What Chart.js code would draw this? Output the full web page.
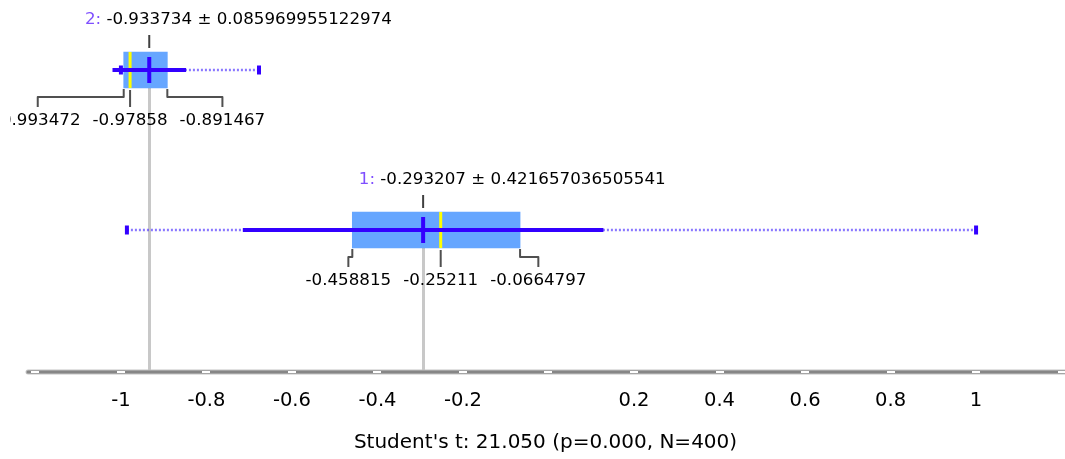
<!DOCTYPE html>
<html>
<head>
<meta charset="utf-8">
<script src="https://cdn.jsdelivr.net/npm/chart.js@4.4.1/dist/chart.umd.min.js"></script>
<style>
html, body { margin: 0; padding: 0; background: #ffffff; }
#wrap { width: 1065px; height: 459px; position: relative; }
</style>
</head>
<body>
<div id="wrap"><canvas id="c"></canvas></div>
<script>
// ---------------- data ----------------
const groupNames = ['1', '2'];
const groupIdx = [1, 2];
const means = [-0.293207, -0.933734];
const sds = [0.421657036505541, 0.085969955122974];
const q1s = [-0.458815, -0.993472];
const medians = [-0.25211, -0.97858];
const q3s = [-0.0664797, -0.891467];
const mins = [-0.986, -1.0];
const maxs = [1.0, -0.677];
const tickValues = [-1.2, -1, -0.8, -0.6, -0.4, -0.2, 0, 0.2, 0.4, 0.6, 0.8, 1, 1.2];
const tickLabels = ['', '-1', '-0.8', '-0.6', '-0.4', '-0.2', '', '0.2', '0.4', '0.6', '0.8', '1', ''];
const axisTitle = "Student's t: 21.050 (p=0.000, N=400)";

// ---------------- styles ----------------
const FONT_FAMILY = '"DejaVu Sans", Verdana, sans-serif';
const LABEL_FONT = '16.7px ' + FONT_FAMILY;
const BLUE = '#3300ff';
const BOX_COLOR = 'rgba(51,136,255,0.75)';
const BOX_H = 36;

Chart.defaults.font.family = FONT_FAMILY;

const datasets = [];
datasets.push({
  type: 'bar', label: 'box', indexAxis: 'y', xAxisID: 'x', yAxisID: 'y',
  data: groupIdx.map((p, i) => ({ y: p, x: [q1s[i], q3s[i]] })),
  backgroundColor: BOX_COLOR, borderWidth: 0, barThickness: BOX_H, order: 10
});
groupIdx.forEach((p, i) => {
  datasets.push({
    type: 'line', label: 'range' + i, xAxisID: 'x', yAxisID: 'y',
    data: [{ x: mins[i], y: p }, { x: maxs[i], y: p }],
    borderColor: 'rgba(60,30,255,0.6)', borderWidth: 2.5, borderDash: [2, 2],
    pointRadius: 0, order: 9
  });
});
datasets.push({
  type: 'line', label: 'median', xAxisID: 'x', yAxisID: 'y', showLine: false,
  data: groupIdx.map((p, i) => ({ x: medians[i], y: p })),
  pointStyle: 'line', pointRotation: 90, pointRadius: BOX_H / 2,
  pointBorderWidth: 3, pointBorderColor: '#ffff00', pointBackgroundColor: '#ffff00',
  order: 8
});
groupIdx.forEach((p, i) => {
  datasets.push({
    type: 'line', label: 'sd' + i, xAxisID: 'x', yAxisID: 'y',
    data: [{ x: means[i] - sds[i], y: p }, { x: means[i] + sds[i], y: p }],
    borderColor: BLUE, borderWidth: 4, pointRadius: 0, order: 7
  });
});
datasets.push({
  type: 'line', label: 'caps', xAxisID: 'x', yAxisID: 'y', showLine: false,
  data: groupIdx.flatMap((p, i) => [{ x: mins[i], y: p }, { x: maxs[i], y: p }]),
  pointStyle: 'line', pointRotation: 90, pointRadius: 4.5,
  pointBorderWidth: 4, pointBorderColor: BLUE, pointBackgroundColor: BLUE,
  order: 6
});
datasets.push({
  type: 'line', label: 'mean', xAxisID: 'x', yAxisID: 'y', showLine: false,
  data: groupIdx.map((p, i) => ({ x: means[i], y: p })),
  pointStyle: 'line', pointRotation: 90, pointRadius: 13,
  pointBorderWidth: 4, pointBorderColor: BLUE, pointBackgroundColor: BLUE,
  order: 5
});

const annot = {
  id: 'annot',
  beforeDatasetsDraw(chart) {
    const { ctx, chartArea, scales: { x, y } } = chart;
    ctx.save();
    ctx.strokeStyle = '#c8c8c8';
    ctx.lineWidth = 3;
    groupIdx.forEach((p, i) => {
      const px = Math.round(x.getPixelForValue(means[i])) + 0.5;
      const py = y.getPixelForValue(p);
      ctx.beginPath();
      ctx.moveTo(px, py + BOX_H / 2);
      ctx.lineTo(px, chartArea.bottom);
      ctx.stroke();
    });
    ctx.restore();
  },
  afterDatasetsDraw(chart) {
    const { ctx, scales: { x, y } } = chart;
    ctx.save();
    // the view clips annotation text a little inside the left edge
    ctx.beginPath();
    ctx.rect(10, 0, chart.width - 10, chart.height);
    ctx.clip();
    ctx.font = LABEL_FONT;
    ctx.textBaseline = 'middle';
    ctx.lineJoin = 'round';
    groupIdx.forEach((p, i) => {
      const py = y.getPixelForValue(p);
      const mx = x.getPixelForValue(means[i]);
      // header label
      const pre = groupNames[i] + ': ';
      const mStr = String(means[i]);
      ctx.textAlign = 'left';
      const wPre = ctx.measureText(pre).width;
      const wM = ctx.measureText(mStr).width;
      const sx = mx - wM / 2 - wPre;
      const ty = py - 50;
      ctx.fillStyle = '#7f4fff';
      ctx.fillText(pre, sx, ty);
      ctx.fillStyle = '#000000';
      ctx.fillText(mStr + ' \u00b1 ' + String(sds[i]), sx + wPre, ty);
      ctx.strokeStyle = '#404040';
      ctx.lineWidth = 2;
      ctx.beginPath();
      ctx.moveTo(mx, py - 35);
      ctx.lineTo(mx, py - 22);
      ctx.stroke();

      // bottom labels
      const bb = py + BOX_H / 2;
      const ly = bb + 33;
      const q1Px = x.getPixelForValue(q1s[i]);
      const q3Px = x.getPixelForValue(q3s[i]);
      const medPx = x.getPixelForValue(medians[i]);
      const s1 = String(q1s[i]), sm = String(medians[i]), s3 = String(q3s[i]);
      const w1 = ctx.measureText(s1).width, wm = ctx.measureText(sm).width, w3 = ctx.measureText(s3).width;
      const gap = 12;
      const c1 = Math.min(q1Px, medPx - wm / 2 - gap - w1 / 2);
      const c3 = Math.max(q3Px, medPx + wm / 2 + gap + w3 / 2);
      ctx.textAlign = 'center';
      ctx.fillStyle = '#000000';
      ctx.fillText(s1, c1, ly);
      ctx.fillText(sm, medPx, ly);
      ctx.fillText(s3, c3, ly);
      ctx.strokeStyle = '#505050';
      ctx.lineWidth = 2;
      ctx.beginPath();
      ctx.moveTo(q1Px, bb + 1); ctx.lineTo(q1Px, bb + 9); ctx.lineTo(c1, bb + 9); ctx.lineTo(c1, bb + 19);
      ctx.moveTo(medPx, bb + 2); ctx.lineTo(medPx, bb + 19);
      ctx.moveTo(q3Px, bb + 1); ctx.lineTo(q3Px, bb + 9); ctx.lineTo(c3, bb + 9); ctx.lineTo(c3, bb + 19);
      ctx.stroke();
    });
    ctx.restore();
  },
  afterDraw(chart) {
    const { ctx, chartArea, scales: { x } } = chart;
    const yb = chartArea.bottom;
    ctx.save();
    ctx.lineCap = 'round';
    ctx.strokeStyle = '#c4c4c4';
    ctx.lineWidth = 5;
    ctx.beginPath(); ctx.moveTo(chartArea.left + 2, yb); ctx.lineTo(chartArea.right + 5, yb); ctx.stroke();
    ctx.strokeStyle = '#868686';
    ctx.lineWidth = 3;
    ctx.beginPath(); ctx.moveTo(chartArea.left + 2, yb); ctx.lineTo(chartArea.right + 5, yb); ctx.stroke();
    ctx.fillStyle = '#ffffff';
    tickValues.forEach(v => {
      const px = x.getPixelForValue(v);
      ctx.fillRect(Math.round(px - 4), yb - 1, 8, 2);
    });
    ctx.restore();
  }
};

new Chart(document.getElementById('c'), {
  type: 'bar',
  data: { datasets },
  plugins: [annot],
  options: {
    responsive: true,
    maintainAspectRatio: false,
    animation: false,
    devicePixelRatio: 1,
    layout: { autoPadding: false, padding: { left: 26, right: 0, top: 0, bottom: 0 } },
    plugins: { legend: { display: false }, tooltip: { enabled: false } },
    scales: {
      x: {
        type: 'linear', position: 'bottom', min: -1.222, max: 1.208, offset: false,
        grid: { display: false, drawTicks: false },
        border: { display: false },
        afterBuildTicks: (scale) => { scale.ticks = tickValues.map(v => ({ value: v })); },
        afterFit: (scale) => { scale.height = 87; scale.paddingLeft = 0; scale.paddingRight = 0; },
        ticks: {
          autoSkip: false, maxRotation: 0, minRotation: 0, padding: 17,
          color: '#000000', font: { size: 19.5, family: FONT_FAMILY },
          callback: (value, index) => tickLabels[index]
        },
        title: {
          display: true, text: axisTitle, color: '#000000',
          font: { size: 20, family: FONT_FAMILY }, padding: { top: 0, bottom: 4 }
        }
      },
      y: {
        type: 'linear', display: false, min: 0.1125, max: 2.4375, offset: false
      }
    }
  }
});
</script>
</body>
</html>
